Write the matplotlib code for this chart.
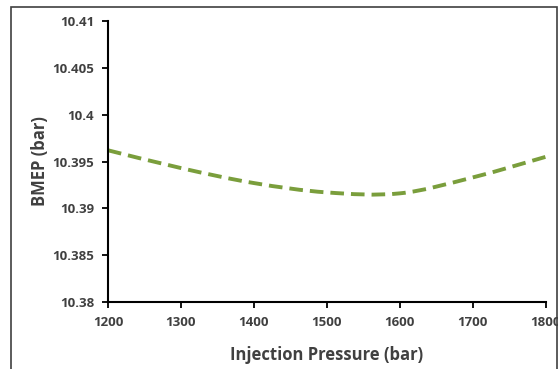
import matplotlib
matplotlib.use("Agg")
import matplotlib.pyplot as plt
from matplotlib.patches import Rectangle, PathPatch
from matplotlib.path import Path

pressure = [1200, 1300, 1400, 1500, 1600, 1700, 1800]
bmep = [10.3962, 10.3943, 10.3927, 10.3917, 10.3916, 10.3933, 10.3955]
xticks = [1200, 1300, 1400, 1500, 1600, 1700, 1800]
yticks = [10.38, 10.385, 10.39, 10.395, 10.4, 10.405, 10.41]
ytick_labels = ["10.38", "10.385", "10.39", "10.395", "10.4", "10.405", "10.41"]

plt.rcParams['font.family'] = ['Open Sans', 'DejaVu Sans']

fig = plt.figure(figsize=(5.58, 3.69), dpi=100)
ax = fig.add_axes([0.1935, 0.1816, 0.7845, 0.7614])

# Excel-style smoothed line: cubic Bezier segments through the data points
n = len(pressure)
verts = [(pressure[0], bmep[0])]
codes = [Path.MOVETO]
for i in range(n - 1):
    p0 = (pressure[max(i - 1, 0)], bmep[max(i - 1, 0)])
    p1 = (pressure[i], bmep[i])
    p2 = (pressure[i + 1], bmep[i + 1])
    p3 = (pressure[min(i + 2, n - 1)], bmep[min(i + 2, n - 1)])
    c1 = (p1[0] + (p2[0] - p0[0]) / 6, p1[1] + (p2[1] - p0[1]) / 6)
    c2 = (p2[0] - (p3[0] - p1[0]) / 6, p2[1] - (p3[1] - p1[1]) / 6)
    verts += [c1, c2, p2]
    codes += [Path.CURVE4] * 3
path = Path(verts, codes)
patch = PathPatch(path, facecolor='none', edgecolor="#7A9E3C", lw=2.8,
                  linestyle=(0, (3.5, 1.8)), capstyle='butt', transform=ax.transData)
ax.add_patch(patch)

ax.set_xlim(1200, 1800)
ax.set_ylim(10.38, 10.41)
ax.set_xticks(xticks)
ax.set_xticklabels([str(t) for t in xticks])
ax.set_yticks(yticks)
ax.set_yticklabels(ytick_labels)
for s in ["top", "right"]:
    ax.spines[s].set_visible(False)
for s in ["left", "bottom"]:
    ax.spines[s].set_linewidth(1.5)
    ax.spines[s].set_color("black")
ax.tick_params(axis='both', direction='out', length=4, width=1.3, labelsize=9.5,
               labelcolor="#404040", pad=6)
for lab in ax.get_xticklabels() + ax.get_yticklabels():
    lab.set_fontweight('bold')
ax.set_xlabel("Injection Pressure (bar)", fontsize=12, fontweight='bold', color="#404040", labelpad=12)
ax.set_ylabel("BMEP (bar)", fontsize=12, fontweight='bold', color="#404040", labelpad=2)

fig.patches.append(Rectangle((11/558, -0.01), (557-11)/558, (369-7)/369 + 0.01,
                             transform=fig.transFigure, fill=False,
                             edgecolor="#404040", lw=1.2))

fig.savefig("out.png", dpi=100)
